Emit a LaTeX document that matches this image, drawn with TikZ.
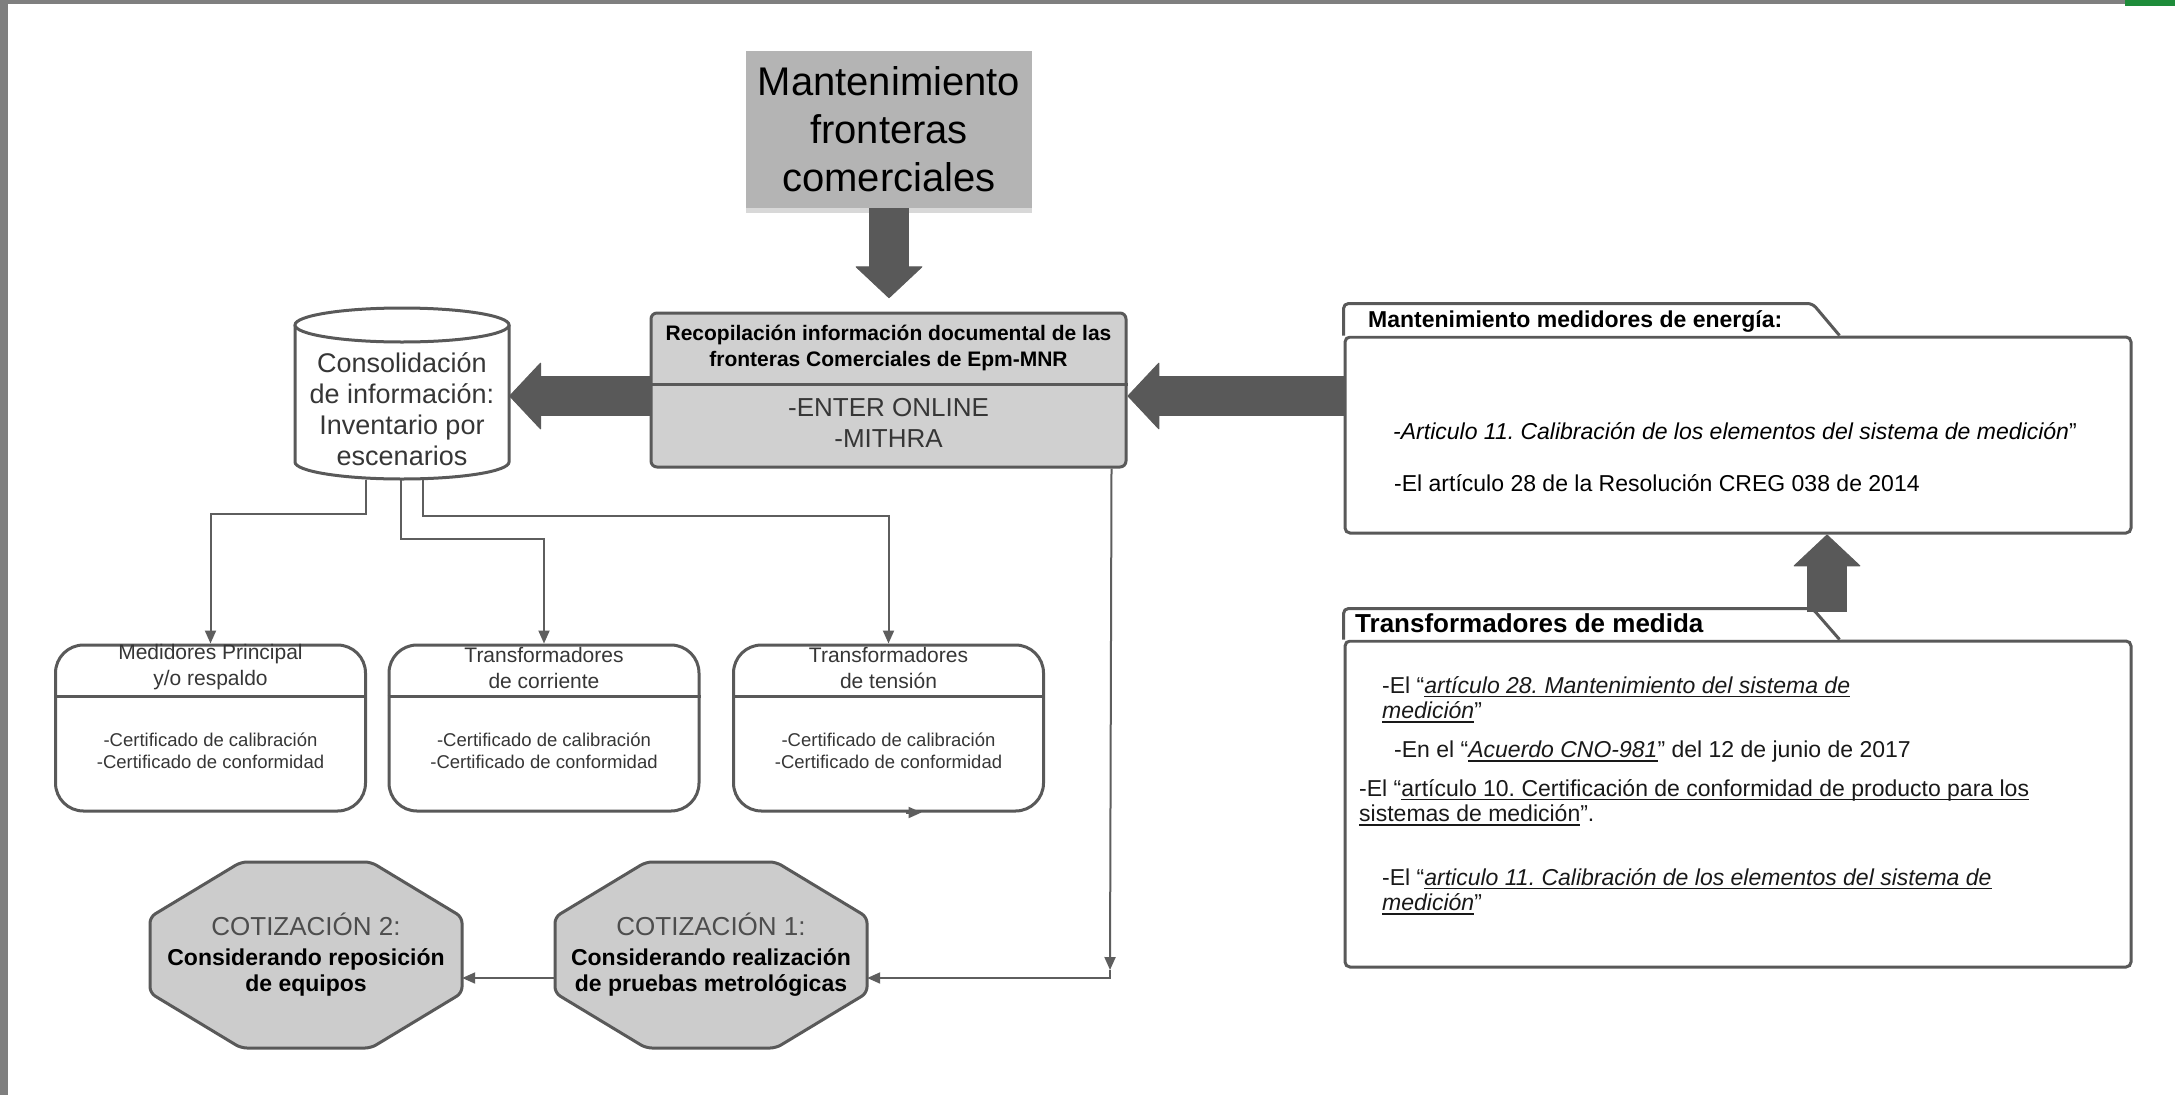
\documentclass[tikz,border=0pt]{standalone}
\usepackage{fontspec}
\setmainfont{Liberation Sans}
\usetikzlibrary{arrows.meta,calc,shadows}
\definecolor{boxgray}{HTML}{595959}
\definecolor{linegray}{HTML}{5E5E5E}
\definecolor{topfill}{HTML}{B4B4B4}
\definecolor{lightfill}{HTML}{D0D0D0}
\definecolor{octfill}{HTML}{CCCCCC}
\definecolor{txtgray}{HTML}{363636}
\definecolor{cotgray}{HTML}{4D4D4D}
\definecolor{framegray}{HTML}{7F7F7F}
\definecolor{framegreen}{HTML}{1E8C3A}
\newcommand{\fsz}[2]{\fontsize{#1}{#2}\selectfont}
\newcommand{\uln}[1]{\setbox0\hbox{#1}\rlap{\rule[-4pt]{\wd0}{1.4pt}}\box0}
\frenchspacing

\begin{document}
\begin{tikzpicture}[x=1pt,y=-1pt,
  boxline/.style={draw=boxgray,line width=3pt},
  card/.style={boxline,fill=white,rounded corners=28pt,minimum width=310pt,minimum height=166pt,inner sep=0pt},
  panel/.style={boxline,fill=white,rounded corners=5pt,minimum width=786pt,inner sep=0pt},
  bigarrow/.style={draw=boxgray,line width=40pt,-{Triangle[length=32pt,width=68pt,line width=1pt,round]}},
  conn/.style={draw=linegray,line width=2pt,-{Triangle[length=13pt,width=11pt]}},
  txt/.style={text=txtgray,inner sep=0pt},
  reftxt/.style={text=black!90,inner sep=0pt,anchor=north west,align=left,font=\fsz{23}{25.5}},
]
\fill[white] (0,0) rectangle (2175,1095);
\useasboundingbox (0,0) rectangle (2175,1095);
\fill[framegray] (0,0) rectangle (8,1095);
\fill[framegray] (0,0) rectangle (2175,4);
\fill[framegreen] (2125,0) rectangle (2175,6);

\node[fill=topfill,minimum width=286pt,minimum height=157pt,inner sep=0pt,align=center,font=\fsz{40}{48},
  drop shadow={opacity=0.3,shadow xshift=0pt,shadow yshift=-5pt}] (mfc) at (889,129.5) {Mantenimiento\\fronteras\\comerciales};

\node[boxline,fill=lightfill,rounded corners=6pt,minimum width=475pt,minimum height=154pt,inner sep=0pt] (recop) at (888.5,390) {};
\draw[boxline] ($(recop.west)+(0,-6)$) -- ($(recop.east)+(0,-6)$);
\node[font=\bfseries\fsz{21}{26},align=center,inner sep=0pt] (recopt) at (888.5,348) {Recopilación información documental de las\\fronteras Comerciales de Epm-MNR};
\node[txt,font=\fsz{26}{31},align=center] (recops) at (888.5,422.5) {-ENTER ONLINE\\-MITHRA};

\draw[boxline,fill=white] (295,325) -- (295,462) arc[start angle=180,end angle=0,x radius=107,y radius=17] -- (509,325);
\draw[boxline,fill=white] (402,325) ellipse[x radius=107,y radius=17];
\node[txt,font=\fsz{27}{31},align=center,minimum width=214pt,minimum height=141pt] (cons) at (402,409) {Consolidación\\de información:\\Inventario por\\escenarios};

\node[card] (med) at (210.5,728) {};
\node[card] (tcor) at (544,728) {};
\node[card] (tten) at (888.5,728) {};
\foreach \b in {med,tcor,tten}
  \draw[boxline] ($(\b.north west)+(0,53)$) -- ($(\b.north east)+(0,53)$);
\node[txt,font=\fsz{21}{26},align=center] (medt) at ($(med.north)+(0,24)$) {Medidores Principal\\y/o respaldo};
\node[txt,font=\fsz{21}{26},align=center] (tcort) at ($(tcor.north)+(0,24)$) {Transformadores\\de corriente};
\node[txt,font=\fsz{21}{26},align=center] (ttent) at ($(tten.north)+(0,24)$) {Transformadores\\de tensión};
\foreach \b in {med,tcor,tten}
  \node[txt,font=\fsz{18.5}{22},align=center] (\b c) at ($(\b.north)+(0,107)$) {-Certificado de calibración\\-Certificado de conformidad};

\foreach \cx in {306,711}
  \draw[boxline,fill=octfill,rounded corners=6pt] (\cx-65,862) -- (\cx+65,862) -- (\cx+156,917) -- (\cx+156,993)
    -- (\cx+65,1048) -- (\cx-65,1048) -- (\cx-156,993) -- (\cx-156,917) -- cycle;
\node[align=center,font=\fsz{23}{26},minimum width=312pt,minimum height=186pt,inner sep=0pt] (cot1) at (711,955)
  {{\color{cotgray}\fsz{26}{30}COTIZACIÓN 1:}\\[4pt]\textbf{Considerando realización}\\\textbf{de pruebas metrológicas}};
\node[align=center,font=\fsz{23}{26},minimum width=312pt,minimum height=186pt,inner sep=0pt] (cot2) at (306,955)
  {{\color{cotgray}\fsz{26}{30}COTIZACIÓN 2:}\\[4pt]\textbf{Considerando reposición}\\\textbf{de equipos}};

\node[panel,minimum height=196pt] (mmed) at (1738,435) {};
\draw[boxline,fill=white,rounded corners=5pt] (mmed.north west) -- ++(0,-32) -- ++(469,0) -- ($(mmed.north west)+(496,0)$);
\node[panel,minimum height=326pt] (tmed) at (1738,804) {};
\draw[boxline,fill=white,rounded corners=5pt] (tmed.north west) -- ++(0,-31) -- ++(469,0) -- ($(tmed.north west)+(496,0)$);

\node[anchor=base west,inner sep=0pt,font=\bfseries\fsz{23}{27}] (mmedt) at (1368,327) {Mantenimiento medidores de energía:};
\node[anchor=base west,inner sep=0pt,font=\fsz{23}{27}] (art11) at (1393,439) {\textit{-Articulo 11. Calibración de los elementos del sistema de medición}”};
\node[anchor=base west,inner sep=0pt,font=\fsz{23}{27}] (art28) at (1394,491) {-El artículo 28 de la Resolución CREG 038 de 2014};

\node[anchor=base west,inner sep=0pt,font=\bfseries\fsz{26}{30}] (tmedt) at (1355,632) {Transformadores de medida};
\node[reftxt] (ref1) at (1382,676) {-El “\uln{\textit{artículo 28. Mantenimiento del sistema de}}\\\uln{\textit{medición}}”};
\node[reftxt] (ref2) at (1394,741) {-En el “\uln{\textit{Acuerdo CNO-981}}” del 12 de junio de 2017};
\node[reftxt] (ref3) at (1359,779) {-El “\uln{artículo 10. Certificación de conformidad de producto para los}\\\uln{sistemas de medición}”.};
\node[reftxt] (ref4) at (1382,868) {-El “\uln{\textit{articulo 11. Calibración de los elementos del sistema de}}\\\uln{\textit{medición}}”};

\coordinate (arrowrow) at (0,396);
\coordinate (upfoot) at (1827,612);
\coordinate (cotcorner) at (1110,978);
\draw[bigarrow] (mfc.south) -- ++(0,90);
\draw[bigarrow] (recop.west |- arrowrow) -- (cons.east |- arrowrow);
\draw[bigarrow] (mmed.west |- arrowrow) -- (recop.east |- arrowrow);
\draw[bigarrow] (upfoot) -- (upfoot |- mmed.south);

\draw[conn] ($(cons.south)+(-36,0)$) -- ++(0,34) -| (med.north);
\draw[conn] ($(cons.south)+(-1,0)$) -- ++(0,59) -| (tcor.north);
\draw[conn] ($(cons.south)+(21,0)$) -- ++(0,36) -| (tten.north);
\draw[conn] ($(tten.south)+(17,0)$) -- ++(16,0);

\draw[conn] ($(recop.south east)+(-16,0)$) -- ($(cotcorner)+(0,-8)$);
\draw[conn] ($(cotcorner)+(0,-8)$) -- (cotcorner) -- (cotcorner -| cot1.east);
\draw[conn] (cot1.west |- cotcorner) -- (cot2.east |- cotcorner);
\end{tikzpicture}
\end{document}
